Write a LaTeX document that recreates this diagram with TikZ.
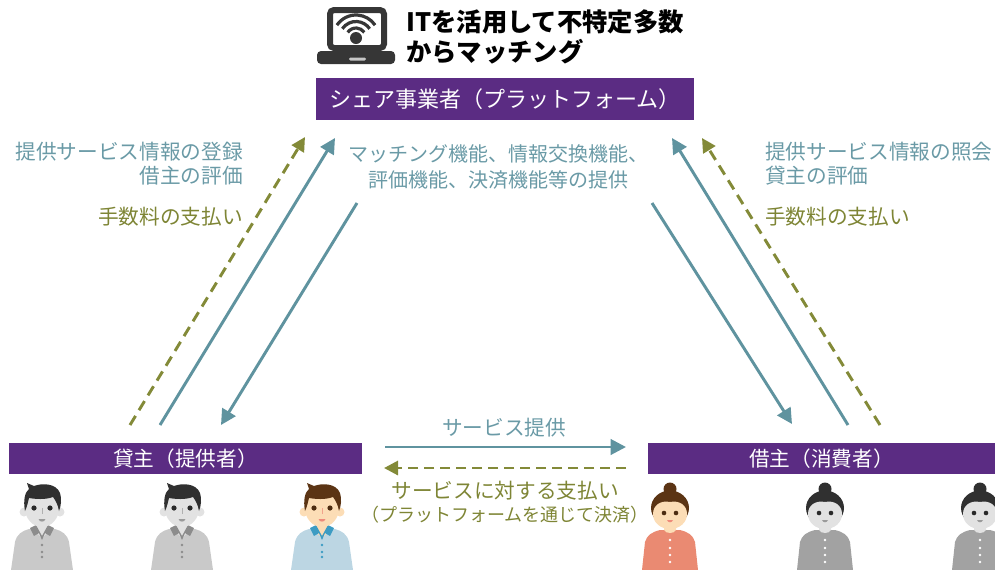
\documentclass[tikz,border=0pt]{standalone}
\usepackage{fontspec}
\setmainfont{Noto Sans CJK JP}
\usetikzlibrary{arrows.meta}

\definecolor{barpurple}{HTML}{5B2C83}
\definecolor{tealline}{HTML}{5F939F}
\definecolor{tealtext}{HTML}{6A9AA6}
\definecolor{oliveline}{HTML}{838A38}
\definecolor{olivetext}{HTML}{7E8535}
\definecolor{iconcol}{HTML}{363636}
% people colours
\definecolor{skin}{HTML}{FCDDB6}
\definecolor{brownhair}{HTML}{5B3414}
\definecolor{blueshirt}{HTML}{BCD6E3}
\definecolor{bluecollar}{HTML}{3D9CC3}
\definecolor{pinkmouth}{HTML}{EE8A7A}
\definecolor{coralshirt}{HTML}{EA8A72}
\definecolor{greyskin}{HTML}{E2E2E2}
\definecolor{greyhair}{HTML}{303030}
\definecolor{greyshirt}{HTML}{C9C9C9}
\definecolor{greycollar}{HTML}{8C8C8C}
\definecolor{greymouth}{HTML}{9A9A9A}
\definecolor{darkshirt}{HTML}{A2A2A2}

\tikzset{
  barbox/.style={fill=barpurple, text=white, inner sep=0pt},
  lbl/.style={inner sep=0pt, font=\fontsize{15.5}{18}\selectfont},
  tealarrow/.style={draw=tealline, line width=2.2pt,
    -{Triangle[length=11.5pt,width=11.5pt]}},
  olivearrow/.style={draw=oliveline, line width=2.2pt,
    dash pattern=on 8pt off 5pt, -{Triangle[length=10.5pt,width=10.5pt]}},
}

% man: x, skin, hair, shirt, collar, mouth
\newcommand\drawman[6]{%
\begin{scope}[shift={(#1,480)}]
  \fill[#4] (-13,49) .. controls (-20,51) and (-25,54) .. (-27,62)
    -- (-31,90) -- (31,90) -- (27,62) .. controls (25,54) and (20,51) .. (13,49) -- cycle;
  \fill[#2] (-6,40) -- (6,40) -- (6,52) -- (0,58) -- (-6,52) -- cycle;
  \fill[#5] (-12,48) -- (-6,45) -- (0,56) -- (6,45) -- (12,48) -- (8,56)
    -- (3,53) -- (0,60) -- (-3,53) -- (-8,56) -- cycle;
  \fill[#2] (-18,32) circle (4.5) (18,32) circle (4.5);
  \fill[#2] (0,28) ellipse [x radius=17, y radius=19];
  \fill[#3] (-17,31) .. controls (-19,20) and (-17,12) .. (-13,9) -- (-15,3)
    -- (-8,6) .. controls (0,3) and (14,3) .. (18,13) .. controls (20,19) and (19,26) .. (17,31)
    .. controls (16,25) and (14,21) .. (11,17) .. controls (3,20) and (-7,19) .. (-13,18)
    .. controls (-14,22) and (-15,27) .. (-17,31) -- cycle;
  \fill[#3!85!black] (-8,28) circle (2.6) (8,28) circle (2.6);
  \draw[#6!70!#2, line width=0.7pt] (0,28) -- (0,34);
  \fill[#6] (-3.5,39) -- (3.5,39) .. controls (2.5,42.5) and (-2.5,42.5) .. (-3.5,39) -- cycle;
  \fill[#5] (0,65) circle (1.3) (0,72) circle (1.3) (0,77) circle (1.3);
\end{scope}}

% woman: x, skin, hair, shirt, mouth
\newcommand\drawwoman[5]{%
\begin{scope}[shift={(#1,480)}]
  \fill[#4] (-10,50) .. controls (-18,52) and (-23,55) .. (-25,62)
    -- (-28,90) -- (28,90) -- (25,62) .. controls (23,55) and (18,52) .. (10,50) -- cycle;
  \fill[#2] (-6,43) -- (6,43) -- (6,50) .. controls (4,54) and (-4,54) .. (-6,50) -- cycle;
  \fill[#3] (0,9) circle (6.5);
  \fill[#3] (0,28) ellipse [x radius=19, y radius=17.5];
  \fill[#2] (-17,34) .. controls (-17,25) and (-9,20) .. (0,22)
    .. controls (9,20) and (17,25) .. (17,34)
    .. controls (17,43) and (9,49) .. (0,49) .. controls (-9,49) and (-17,43) .. (-17,34) -- cycle;
  \fill[#3!85!black] (-6,33) circle (2.3) (6,33) circle (2.3);
  \fill[#5] (-3,40) -- (3,40) .. controls (2,43) and (-2,43) .. (-3,40) -- cycle;
  \fill[white] (0,60) circle (1.3) (0,68) circle (1.3) (0,75) circle (1.3) (0,82) circle (1.3);
\end{scope}}

\begin{document}
\begin{tikzpicture}[x=0.75pt, y=-0.75pt]
  \useasboundingbox (0,0) rectangle (995,569);

  % laptop with wifi sign
  \begin{scope}[iconcol]
    \draw[line width=4.5pt, rounded corners=3pt] (330,10) rectangle (384,48);
    \fill[rounded corners=3pt] (317,51) -- (395,51) -- (395,64) -- (317,64) -- cycle;
    \fill[gray!45, rounded corners=1pt] (349,57.5) rectangle (366,60.5);
    \fill (356,38) circle (6);
    \draw[line width=2.4pt] (356,38) ++(214:10) arc[start angle=214, end angle=326, radius=10];
    \draw[line width=2.4pt] (356,38) ++(214:16.5) arc[start angle=214, end angle=326, radius=16.5];
    \draw[line width=2.4pt] (356,38) ++(214:23) arc[start angle=214, end angle=326, radius=23];
  \end{scope}

  % heading
  \node[anchor=west, inner sep=0pt, font=\fontsize{19}{22}\selectfont\bfseries] (head1) at (406,22) {ITを活用して不特定多数};
  \node[anchor=west, inner sep=0pt, font=\fontsize{19}{22}\selectfont\bfseries] (head2) at (406,52) {からマッチング};

  % three parties
  \node[barbox, minimum width=283.5pt, minimum height=31.5pt,
        font=\fontsize{16.5}{19}\selectfont] (plat) at (505,99) {シェア事業者（プラットフォーム）};
  \node[barbox, minimum width=264.75pt, minimum height=23.25pt,
        font=\fontsize{15.5}{18}\selectfont] (lender) at (185.5,458.5) {貸主（提供者）};
  \node[barbox, minimum width=260.25pt, minimum height=23.25pt,
        font=\fontsize{15.5}{18}\selectfont] (borrower) at (821.5,458.5) {借主（消費者）};

  % arrow end points
  \coordinate (lfeeS) at (130,425);   \coordinate (lfeeE) at (305,137);
  \coordinate (lregS) at (160,425);   \coordinate (lregE) at (335,138);
  \coordinate (lsvcS) at (357,203);   \coordinate (lsvcE) at (221,425);
  \coordinate (rregS) at (848,425);   \coordinate (rregE) at (672,138);
  \coordinate (rfeeS) at (880,425);   \coordinate (rfeeE) at (702,138);
  \coordinate (rsvcS) at (652,203);   \coordinate (rsvcE) at (792,424);
  \coordinate (provS) at (385,447);   \coordinate (provE) at (626,447);
  \coordinate (payS)  at (626,468);   \coordinate (payE)  at (384,468);

  \draw[olivearrow] (lfeeS) -- (lfeeE);
  \draw[tealarrow]  (lregS) -- (lregE);
  \draw[tealarrow]  (lsvcS) -- (lsvcE);
  \draw[tealarrow]  (rregS) -- (rregE);
  \draw[olivearrow] (rfeeS) -- (rfeeE);
  \draw[tealarrow]  (rsvcS) -- (rsvcE);
  \draw[tealarrow]  (provS) -- (provE);
  \draw[olivearrow, dash pattern=on 7.5pt off 4.5pt] (payS) -- (payE);

  % labels, lender side
  \node[lbl, text=tealtext, anchor=east] (l1) at (243,152) {提供サービス情報の登録};
  \node[lbl, text=tealtext, anchor=east] (l2) at (243,176) {借主の評価};
  \node[lbl, text=olivetext, anchor=east] (l3) at (243,217) {手数料の支払い};

  % labels, borrower side
  \node[lbl, text=tealtext, anchor=west] (r1) at (765,152) {提供サービス情報の照会};
  \node[lbl, text=tealtext, anchor=west] (r2) at (765,176) {貸主の評価};
  \node[lbl, text=olivetext, anchor=west] (r3) at (765,217) {手数料の支払い};

  % platform services
  \node[lbl, text=tealtext, font=\fontsize{15}{18}\selectfont] (m1) at (498,154) {マッチング機能、情報交換機能、};
  \node[lbl, text=tealtext, font=\fontsize{15}{18}\selectfont] (m2) at (498,180) {評価機能、決済機能等の提供};

  % between lender and borrower
  \node[lbl, text=tealtext] (s1) at (504,428) {サービス提供};
  \node[lbl, text=olivetext] (p1) at (505,491) {サービスに対する支払い};
  \node[lbl, text=olivetext, font=\fontsize{13.5}{16}\selectfont] (p2) at (505,515) {（プラットフォームを通じて決済）};

  % lenders
  \drawman{42}{greyskin}{greyhair}{greyshirt}{greycollar}{greymouth}
  \drawman{182}{greyskin}{greyhair}{greyshirt}{greycollar}{greymouth}
  \drawman{322}{skin}{brownhair}{blueshirt}{bluecollar}{pinkmouth}

  % borrowers
  \drawwoman{670}{skin}{brownhair}{coralshirt}{pinkmouth}
  \drawwoman{825}{greyskin}{greyhair}{darkshirt}{greymouth}
  \drawwoman{980}{greyskin}{greyhair}{darkshirt}{greymouth}
\end{tikzpicture}
\end{document}
